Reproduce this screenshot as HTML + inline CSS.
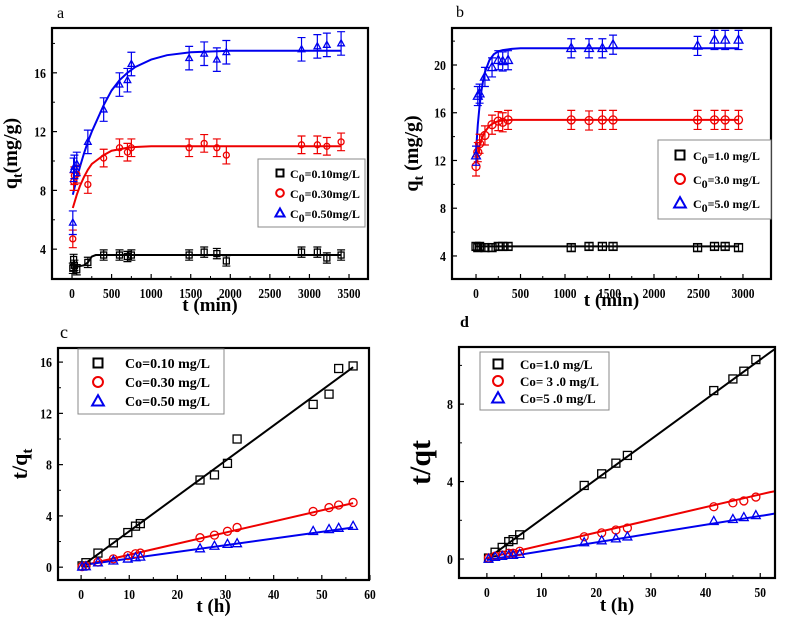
<!DOCTYPE html>
<html><head><meta charset="utf-8">
<style>
html,body{margin:0;padding:0;background:#fff;}
svg{display:block;font-family:"Liberation Serif",serif;font-weight:bold;}
</style></head>
<body>
<svg id="fig" width="787" height="621" viewBox="0 0 787 621" xmlns="http://www.w3.org/2000/svg">
<text x="57" y="18" font-size="16" font-weight="normal">a</text>
<text x="456" y="17" font-size="16" font-weight="normal">b</text>
<text x="60" y="338" font-size="18" font-weight="normal">c</text>
<text x="460" y="327" font-size="16">d</text>
</svg>
<script>
// ---- Panel a data ----
const aT=[10,20,30,60,200,400,600,700,750,1480,1670,1830,1950,2900,3100,3220,3400];
const aBlack=[2.7,3.3,2.9,2.6,3.1,3.6,3.6,3.5,3.6,3.6,3.8,3.7,3.2,3.8,3.8,3.4,3.6];
const aRed=[4.7,8.6,9.0,9.1,8.4,10.2,10.9,10.6,10.9,10.9,11.2,10.9,10.4,11.1,11.1,11.0,11.3];
const aBlue=[5.8,9.4,9.6,9.8,11.3,13.5,15.2,15.5,16.6,17.0,17.3,16.9,17.4,17.6,17.8,17.9,18.0];
const aErr=[0.35,0.6,0.8];
const aFitT=[10,60,100,150,200,250,300,400,500,600,700,800,1000,1200,1500,2000,2500,3400];
const aFitBlack=[2.8,2.8,2.85,2.9,3.1,3.5,3.6,3.6,3.6,3.6,3.6,3.6,3.6,3.6,3.6,3.6,3.6,3.6];
const aFitRed=[6.8,7.7,8.3,8.9,9.4,9.8,10.0,10.4,10.7,10.8,10.9,10.95,11.0,11.0,11.0,11.0,11.0,11.0];
const aFitBlue=[7.7,8.8,9.6,10.5,11.3,12.0,12.6,13.8,14.8,15.5,16.0,16.4,16.9,17.2,17.4,17.5,17.5,17.5];
// ---- Panel b data ----
const bT=[0,20,40,100,180,250,300,360,1070,1270,1420,1540,2490,2680,2800,2950];
const bBlack=[4.8,4.7,4.8,4.7,4.7,4.8,4.8,4.8,4.7,4.8,4.8,4.8,4.7,4.8,4.8,4.7];
const bRed=[11.5,12.7,13.4,14.1,15.0,15.3,15.2,15.4,15.4,15.35,15.4,15.4,15.4,15.4,15.4,15.4];
const bBlue=[12.4,17.4,17.6,19.0,19.8,20.4,20.3,20.4,21.4,21.4,21.4,21.7,21.6,22.1,22.1,22.1];
const bErr=[0.3,0.8,0.8];
const bFitT=[0,20,40,60,80,100,150,200,250,300,400,500,1000,2950];
const bFitBlack=[4.8,4.8,4.8,4.8,4.8,4.8,4.8,4.8,4.8,4.8,4.8,4.8,4.8,4.8];
const bFitRed=[11.8,12.6,13.2,13.7,14.1,14.4,14.9,15.15,15.3,15.35,15.4,15.4,15.4,15.4];
const bFitBlue=[12.8,15.0,16.6,17.8,18.7,19.4,20.4,20.9,21.15,21.25,21.35,21.4,21.4,21.4];
// ---- Panel c data ----
const cT=[0.2,1,3.5,6.7,9.7,11.3,12.3,24.7,27.7,30.4,32.4,48.2,51.5,53.5,56.5];
const cBlack=[0.1,0.35,1.1,1.9,2.7,3.2,3.4,6.8,7.2,8.1,10.0,12.7,13.5,15.5,15.7];
const cRed=[0.05,0.1,0.4,0.65,0.9,1.05,1.1,2.3,2.5,2.8,3.1,4.35,4.65,4.85,5.05];
const cBlue=[0.02,0.05,0.35,0.5,0.65,0.75,0.8,1.45,1.65,1.8,1.85,2.8,2.95,3.05,3.2];
const cFitT=[0,56.5];
const cFitBlack=[0.05,15.6];
const cFitRed=[0.1,5.0];
const cFitBlue=[0.15,3.1];
// ---- Panel d data ----
const dT=[0.3,1.5,2.8,4,4.8,6,17.8,21,23.6,25.7,41.5,45,47,49.2];
const dBlack=[0.05,0.35,0.6,0.9,1.0,1.25,3.8,4.4,4.95,5.35,8.7,9.3,9.7,10.3];
const dRed=[0.05,0.15,0.2,0.3,0.3,0.4,1.15,1.35,1.5,1.6,2.7,2.9,3.0,3.2];
const dBlue=[0.0,0.1,0.15,0.2,0.2,0.25,0.85,0.95,1.05,1.15,1.95,2.05,2.15,2.25];
const dFitT=[0,51.7,52.7];
const dFitBlack=[0,10.65,10.85];
const dFitRed=[0.05,3.45,3.5];
const dFitBlue=[-0.05,2.3,2.35];
// ticks
const aXTicks=[0,500,1000,1500,2000,2500,3000,3500];
const aXLabels=["0","500","1000","1500","2000","2500","3000","3500"];
const aYTicks=[4,8,12,16];
const bXTicks=[0,500,1000,1500,2000,2500,3000];
const bYTicks=[4,8,12,16,20];
const cXTicks=[0,10,20,30,40,50,60];
const cYTicks=[0,4,8,12,16];
const dXTicks=[0,10,20,30,40,50];
const dYTicks=[0,4,8];

const NS="http://www.w3.org/2000/svg";
const svg=document.getElementById('fig');
const COLORS=['#000','#e00','#00e'];
function mk(tag,attrs,parent){const e=document.createElementNS(NS,tag);for(const k in attrs)e.setAttribute(k,attrs[k]);(parent||svg).appendChild(e);return e;}

function panel(cfg){
  const g=mk('g',{});
  
  
  const X=v=>cfg.L+(v-cfg.x0)/(cfg.x1-cfg.x0)*(cfg.R-cfg.L);
  const Y=v=>cfg.B-(v-cfg.y0)/(cfg.y1-cfg.y0)*(cfg.B-cfg.T);
  const clip='clip-'+cfg.id;
  const cp=mk('clipPath',{id:clip},g);mk('rect',{x:cfg.L,y:cfg.T,width:cfg.R-cfg.L,height:cfg.B-cfg.T},cp);
  cfg.xt.forEach((v,i)=>{
    const t=mk('line',{x1:X(v),x2:X(v),y1:cfg.B,y2:cfg.B-5,stroke:'#000','stroke-width':1.2},g);
    
    if(i<cfg.xt.length-1){const m=(v+cfg.xt[i+1])/2;if(X(m)<cfg.R)mk('line',{x1:X(m),x2:X(m),y1:cfg.B,y2:cfg.B-3,stroke:'#000'},g);}
    const l=mk('text',{x:0,y:0,'text-anchor':'middle','font-size':cfg.tfs||14,transform:`translate(${X(v)},${cfg.B+19}) scale(0.82,1)`},g);
    l.textContent=cfg.xl?cfg.xl[i]:String(v);
    
  });
  cfg.yt.forEach((v,i)=>{
    const t=mk('line',{x1:cfg.L,x2:cfg.L+5,y1:Y(v),y2:Y(v),stroke:'#000','stroke-width':1.2},g);
    
    const m=v+(cfg.yt[1]-cfg.yt[0])/2;if(Y(m)>cfg.T)mk('line',{x1:cfg.L,x2:cfg.L+3,y1:Y(m),y2:Y(m),stroke:'#000'},g);
    const l=mk('text',{x:0,y:0,'text-anchor':'end','font-size':cfg.tfs||14,transform:`translate(${cfg.L-6},${Y(v)+5}) scale(0.85,1)`},g);
    l.textContent=String(v);
    
  });
  cfg.fits.forEach((f,si)=>{
    const p=mk('polyline',{points:cfg.fitT.map((t,i)=>X(t)+','+Y(f[i])).join(' '),fill:'none',stroke:COLORS[si],'stroke-width':2,'clip-path':'url(#'+clip+')'},g);
    
  });
  cfg.series.forEach((s,si)=>{
    s.forEach((v,i)=>{
      const x=X(cfg.t[i]),y=Y(v),c=COLORS[si],r=cfg.ms;
      if(cfg.err){const e=cfg.err[si];const dy=Math.abs(Y(v+e)-y);
        const eb=mk('path',{d:`M${x},${y-dy}V${y+dy}M${x-4},${y-dy}H${x+4}M${x-4},${y+dy}H${x+4}`,stroke:c,'stroke-width':1.2,fill:'none','clip-path':'url(#'+clip+')'},g);
        }
      let m;
      if(si===0)m=mk('rect',{x:x-r,y:y-r,width:2*r,height:2*r,fill:'none',stroke:c,'stroke-width':1.3},g);
      else if(si===1)m=mk('circle',{cx:x,cy:y,r:r,fill:'none',stroke:c,'stroke-width':1.3},g);
      else m=mk('path',{d:`M${x},${y-r*1.2}L${x+r*1.1},${y+r*0.8}L${x-r*1.1},${y+r*0.8}Z`,fill:'none',stroke:c,'stroke-width':1.3},g);
      
    });
  });
  const fr=mk('rect',{x:cfg.L,y:cfg.T,width:cfg.R-cfg.L,height:cfg.B-cfg.T,fill:'none',stroke:'#000','stroke-width':2.2},g);
  
  const lg=cfg.leg;
  const lb=mk('rect',{x:lg.x,y:lg.y,width:lg.w,height:lg.h,fill:'#fff',stroke:'#888','stroke-width':1},g);
  
  lg.labels.forEach((txt,i)=>{
    const y=lg.y+lg.pad+i*lg.dy, x=lg.mx, c=COLORS[i], r=lg.r;
    let m;
    if(i===0)m=mk('rect',{x:x-r,y:y-r,width:2*r,height:2*r,fill:'none',stroke:c,'stroke-width':2},g);
    else if(i===1)m=mk('circle',{cx:x,cy:y,r:r*1.1,fill:'none',stroke:c,'stroke-width':2},g);
    else m=mk('path',{d:`M${x},${y-r*1.3}L${x+r*1.3},${y+r}L${x-r*1.3},${y+r}Z`,fill:'none',stroke:c,'stroke-width':2},g);
    
    const t=mk('text',{x:lg.tx,y:y+5,'font-size':lg.fs},g);
    t.innerHTML=txt;
    
  });
  const xt=mk('text',{x:(cfg.L+cfg.R)/2,y:cfg.xty,'text-anchor':'middle','font-size':19},g);
  xt.innerHTML=cfg.xtitle;
  const yt=mk('text',{x:0,y:0,'text-anchor':'middle','font-size':cfg.ytfs||20,transform:`translate(${cfg.ytx},${(cfg.T+cfg.B)/2}) rotate(-90)`},g);
  yt.innerHTML=cfg.ytitle;
}
const sub0='<tspan font-size="12" dy="4">0</tspan><tspan dy="-4">';
panel({id:'panel-a',L:52,R:368,T:28,B:279,x0:-253,x1:3740,y0:1.97,y1:19.05,xt:aXTicks,xl:aXLabels,yt:aYTicks,
  t:aT,series:[aBlack,aRed,aBlue],err:aErr,ms:3,fitT:aFitT,fits:[aFitBlack,aFitRed,aFitBlue],
  leg:{x:258,y:159,w:107,h:68,pad:14,dy:20,mx:280,tx:290,r:3.5,fs:12,labels:['C'+sub0+'=0.10mg/L</tspan>','C'+sub0+'=0.30mg/L</tspan>','C'+sub0+'=0.50mg/L</tspan>']},
  xtitle:'t (min)',xty:311,ytitle:'q<tspan font-size="14" dy="5">t</tspan><tspan dy="-5">(mg/g)</tspan>',ytx:17});
panel({id:'panel-b',L:452,R:771,T:28,B:279,x0:-270,x1:3315,y0:2.07,y1:23.1,xt:bXTicks,yt:bYTicks,
  t:bT,series:[bBlack,bRed,bBlue],err:bErr,ms:4,fitT:bFitT,fits:[bFitBlack,bFitRed,bFitBlue],
  leg:{x:658,y:140,w:113,h:79,pad:15,dy:24,mx:680,tx:693,r:4.5,fs:12,labels:['C'+sub0+'=1.0 mg/L</tspan>','C'+sub0+'=3.0 mg/L</tspan>','C'+sub0+'=5.0 mg/L</tspan>']},
  xtitle:'t  (min)',xty:306,ytitle:'q<tspan font-size="14" dy="5">t</tspan><tspan dy="-5"> (mg/g)</tspan>',ytx:418});
panel({id:'panel-c',L:58,R:369,T:348,B:580,x0:-4.8,x1:59.8,y0:-1.0,y1:17.1,xt:cXTicks,yt:cYTicks,
  t:cT,series:[cBlack,cRed,cBlue],ms:4,fitT:cFitT,fits:[cFitBlack,cFitRed,cFitBlue],
  leg:{x:78,y:349,w:146,h:65,pad:14,dy:19,mx:98,tx:125,r:4.5,fs:14,labels:['Co=0.10 mg/L','Co=0.30 mg/L','Co=0.50 mg/L']},
  xtitle:'t (h)',xty:612,ytitle:'t/q<tspan font-size="15" dy="5">t</tspan>',ytx:27,ytfs:22});
panel({id:'panel-d',L:459,R:775,T:347,B:578,x0:-5.1,x1:52.7,y0:-0.98,y1:10.95,xt:dXTicks,yt:dYTicks,
  t:dT,series:[dBlack,dRed,dBlue],ms:4,fitT:dFitT,fits:[dFitBlack,dFitRed,dFitBlue],
  leg:{x:480,y:352,w:129,h:58,pad:12,dy:17,mx:498,tx:520,r:4.5,fs:13,labels:['Co=1.0 mg/L','Co= 3 .0 mg/L',' Co=5 .0 mg/L']},
  xtitle:'t (h)',xty:611,ytitle:'t/qt',ytx:430,ytfs:30});
</script>
</body></html>
